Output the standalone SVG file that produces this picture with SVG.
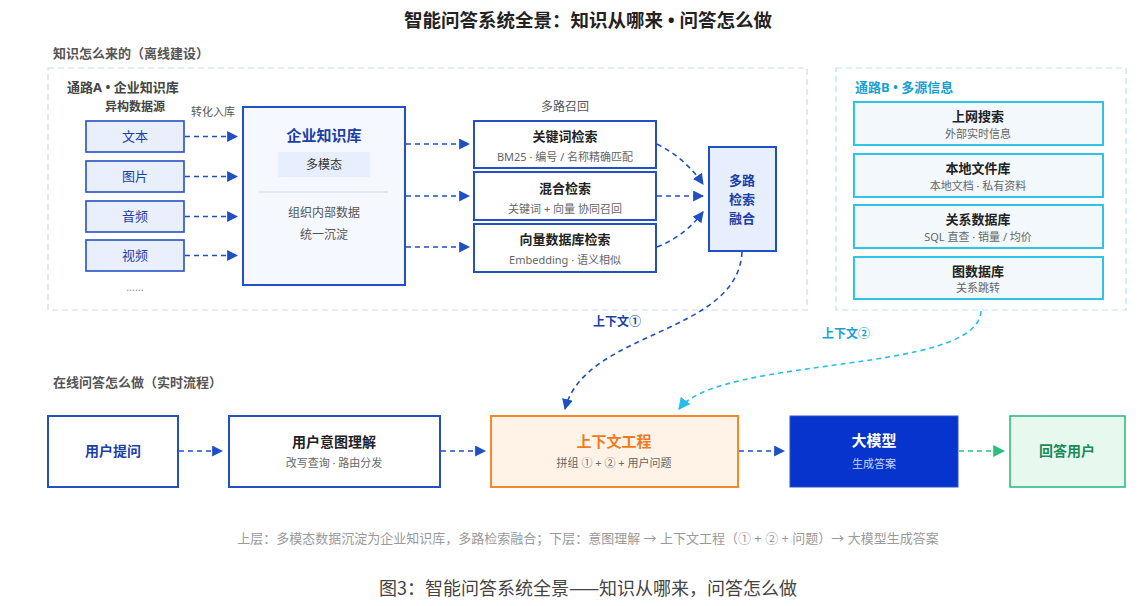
<svg xmlns="http://www.w3.org/2000/svg" width="1141" height="606" viewBox="0 0 1141 606">
<defs>
<style>
text{font-family:"Noto Sans","Noto Sans CJK SC",sans-serif;}
.cjk{font-family:"Noto Sans CJK SC",sans-serif;}
.title{font-size:18.5px;font-weight:bold;fill:#222;}
.sec{font-size:13px;font-weight:bold;fill:#555;}
.lblA{font-size:13px;font-weight:bold;fill:#444;}
.lblB{font-size:13px;font-weight:bold;fill:#1a9fd2;}
.src{fill:#e9effd;stroke:#2550c4;stroke-width:1.6;}
.srct{font-size:13px;fill:#1a3fa8;}
.wbox{fill:#fff;stroke:#2550c4;stroke-width:2;}
.bbox{fill:#f2f8fc;stroke:#2fc3e8;stroke-width:2;}
.h{font-size:13px;font-weight:bold;fill:#222;}
.sub{font-size:11px;fill:#666;}
.arr{fill:none;stroke:#1f4fc4;stroke-width:1.6;stroke-dasharray:5 4;}
.arrc{fill:none;stroke:#28bde8;stroke-width:1.6;stroke-dasharray:5 4;}
.arrg{fill:none;stroke:#2dbd80;stroke-width:1.6;stroke-dasharray:5 4;}
</style>
<marker id="mb" viewBox="0 0 10 10" refX="9" refY="5" markerWidth="11" markerHeight="11" markerUnits="userSpaceOnUse" orient="auto"><path d="M0,0L10,5L0,10z" fill="#1f4fc4"/></marker>
<marker id="mc" viewBox="0 0 10 10" refX="9" refY="5" markerWidth="12" markerHeight="12" markerUnits="userSpaceOnUse" orient="auto"><path d="M0,0L10,5L0,10z" fill="#28bde8"/></marker>
<marker id="mg" viewBox="0 0 10 10" refX="9" refY="5" markerWidth="12" markerHeight="12" markerUnits="userSpaceOnUse" orient="auto"><path d="M0,0L10,5L0,10z" fill="#2dbd80"/></marker>
</defs>
<rect width="1141" height="606" fill="#fff"/>
<text class="title" x="588" y="27" text-anchor="middle">智能问答系统全景：知识从哪来 • 问答怎么做</text>
<text class="sec" x="53" y="58">知识怎么来的（离线建设）</text>
<text class="sec" x="53" y="387">在线问答怎么做（实时流程）</text>

<g id="containerA">
<rect x="48" y="68" width="759" height="242" fill="none" stroke="#cfd7ea" stroke-width="1.2" stroke-dasharray="6 4"/>
<text class="lblA" x="67" y="92">通路A • 企业知识库</text>
<text x="135" y="111" text-anchor="middle" font-size="12" font-weight="bold" fill="#444">异构数据源</text>
<text x="213" y="116" text-anchor="middle" font-size="11" fill="#555">转化入库</text>
<text x="135" y="291" text-anchor="middle" font-size="11" fill="#888">……</text>
<text x="565" y="111" text-anchor="middle" font-size="12" fill="#555">多路召回</text>
</g>

<g id="src-text"><rect class="src" x="86" y="121" width="98" height="31"/><text class="srct" x="135" y="141" text-anchor="middle">文本</text></g>
<g id="src-image"><rect class="src" x="86" y="161" width="98" height="31"/><text class="srct" x="135" y="181" text-anchor="middle">图片</text></g>
<g id="src-audio"><rect class="src" x="86" y="201" width="98" height="31"/><text class="srct" x="135" y="221" text-anchor="middle">音频</text></g>
<g id="src-video"><rect class="src" x="86" y="240" width="98" height="31"/><text class="srct" x="135" y="260" text-anchor="middle">视频</text></g>

<g id="kb">
<rect x="243" y="107" width="162" height="178" fill="#f5f8ff" stroke="#2550c4" stroke-width="2"/>
<text x="324" y="141" text-anchor="middle" font-size="15" font-weight="bold" fill="#1a3fa8">企业知识库</text>
<rect x="278" y="152" width="92" height="25" fill="#e7eefd"/>
<text x="324" y="169" text-anchor="middle" font-size="12" fill="#333">多模态</text>
<line x1="259" y1="192" x2="388" y2="192" stroke="#d2d6e0" stroke-width="1"/>
<text x="324" y="217" text-anchor="middle" font-size="12" fill="#555">组织内部数据</text>
<text x="324" y="239" text-anchor="middle" font-size="12" fill="#555">统一沉淀</text>
</g>

<g id="r-keyword"><rect class="wbox" x="474" y="121" width="182" height="47"/><text class="h" x="565" y="141" text-anchor="middle">关键词检索</text><text class="sub" x="565" y="161" text-anchor="middle">BM25 · 编号 / 名称精确匹配</text></g>
<g id="r-hybrid"><rect class="wbox" x="474" y="172" width="182" height="48"/><text class="h" x="565" y="193" text-anchor="middle">混合检索</text><text class="sub" x="565" y="213" text-anchor="middle">关键词 + 向量 协同召回</text></g>
<g id="r-vector"><rect class="wbox" x="474" y="224" width="182" height="48"/><text class="h" x="565" y="244" text-anchor="middle">向量数据库检索</text><text class="sub" x="565" y="264" text-anchor="middle">Embedding · 语义相似</text></g>

<g id="fusion">
<rect x="709" y="147" width="67" height="104" fill="#e7eefd" stroke="#1f4fc4" stroke-width="2"/>
<text x="742" y="185" text-anchor="middle" font-size="13" font-weight="bold" fill="#1a3fa8">多路</text>
<text x="742" y="204" text-anchor="middle" font-size="13" font-weight="bold" fill="#1a3fa8">检索</text>
<text x="742" y="223" text-anchor="middle" font-size="13" font-weight="bold" fill="#1a3fa8">融合</text>
</g>

<g id="containerB">
<rect x="836" y="68" width="290" height="242" fill="none" stroke="#b9e3f1" stroke-width="1.2" stroke-dasharray="6 4"/>
<text class="lblB" x="855" y="92">通路B • 多源信息</text>
</g>
<g id="b-web"><rect class="bbox" x="854" y="102" width="249" height="43"/><text class="h" x="978" y="121" text-anchor="middle">上网搜索</text><text class="sub" x="978" y="138" text-anchor="middle">外部实时信息</text></g>
<g id="b-file"><rect class="bbox" x="854" y="154" width="249" height="43"/><text class="h" x="978" y="173" text-anchor="middle">本地文件库</text><text class="sub" x="978" y="190" text-anchor="middle">本地文档 · 私有资料</text></g>
<g id="b-rdb"><rect class="bbox" x="854" y="205" width="249" height="43"/><text class="h" x="978" y="224" text-anchor="middle">关系数据库</text><text class="sub" x="978" y="241" text-anchor="middle">SQL 直查 · 销量 / 均价</text></g>
<g id="b-graph"><rect class="bbox" x="854" y="257" width="249" height="42"/><text class="h" x="978" y="276" text-anchor="middle">图数据库</text><text class="sub" x="978" y="292" text-anchor="middle">关系跳转</text></g>

<g id="q-ask"><rect class="wbox" x="48" y="416" width="130" height="71"/><text x="113" y="456" text-anchor="middle" font-size="14" font-weight="bold" fill="#1a3fa8">用户提问</text></g>
<g id="q-intent"><rect class="wbox" x="229" y="416" width="211" height="71"/><text x="334" y="447" text-anchor="middle" font-size="14" font-weight="bold" fill="#222">用户意图理解</text><text class="sub" x="334" y="467" text-anchor="middle">改写查询 · 路由分发</text></g>
<g id="q-context"><rect x="491" y="416" width="247" height="71" fill="#fff3e8" stroke="#f08a2c" stroke-width="2"/><text x="614" y="447" text-anchor="middle" font-size="15" font-weight="bold" fill="#f07a1a">上下文工程</text><text class="sub" x="614" y="467" text-anchor="middle" fill="#555">拼组 ① + ② + 用户问题</text></g>
<g id="q-llm"><rect x="790" y="416" width="168" height="71" fill="#0634cc" stroke="#2a55c8" stroke-width="1"/><text x="874" y="446" text-anchor="middle" font-size="15" font-weight="bold" fill="#fff">大模型</text><text x="874" y="468" text-anchor="middle" font-size="11" fill="#c9d8ff">生成答案</text></g>
<g id="q-answer"><rect x="1010" y="416" width="115" height="71" fill="#e7f8ee" stroke="#2dbd80" stroke-width="1.6"/><text x="1067" y="456" text-anchor="middle" font-size="14" font-weight="bold" fill="#1b8a5a">回答用户</text></g>

<g id="connectors">
<path class="arr" d="M185,136.5H237" marker-end="url(#mb)"/>
<path class="arr" d="M185,176.5H237" marker-end="url(#mb)"/>
<path class="arr" d="M185,216.5H237" marker-end="url(#mb)"/>
<path class="arr" d="M185,255.5H237" marker-end="url(#mb)"/>
<path class="arr" d="M406,144H469" marker-end="url(#mb)"/>
<path class="arr" d="M406,196H469" marker-end="url(#mb)"/>
<path class="arr" d="M406,247H469" marker-end="url(#mb)"/>
<path class="arr" d="M657,144Q685,158 703,184" marker-end="url(#mb)"/>
<path class="arr" d="M657,196H703" marker-end="url(#mb)"/>
<path class="arr" d="M657,247Q685,236 703,212" marker-end="url(#mb)"/>
<path class="arr" d="M742,252C738,335 585,330 565,409" marker-end="url(#mb)"/>
<path class="arrc" d="M981,311C978,375 720,355 679,409" marker-end="url(#mc)"/>
<path class="arr" d="M179,451H222" marker-end="url(#mb)"/>
<path class="arr" d="M441,451H485" marker-end="url(#mb)"/>
<path class="arr" d="M739,451H784" marker-end="url(#mb)"/>
<path class="arrg" d="M959,451H1004" marker-end="url(#mg)"/>
<text x="617" y="326" text-anchor="middle" font-size="12" font-weight="bold" fill="#1a3fa8">上下文①</text>
<text x="846" y="338" text-anchor="middle" font-size="12" font-weight="bold" fill="#1a9fd2">上下文②</text>
</g>

<text x="588" y="543" text-anchor="middle" font-size="13" fill="#9a9a9a">上层：多模态数据沉淀为企业知识库，多路检索融合；下层：意图理解 → 上下文工程（① + ② + 问题）→ 大模型生成答案</text>
<text class="cjk" x="588" y="595" text-anchor="middle" font-size="18" fill="#444">图3：智能问答系统全景——知识从哪来，问答怎么做</text>
</svg>
